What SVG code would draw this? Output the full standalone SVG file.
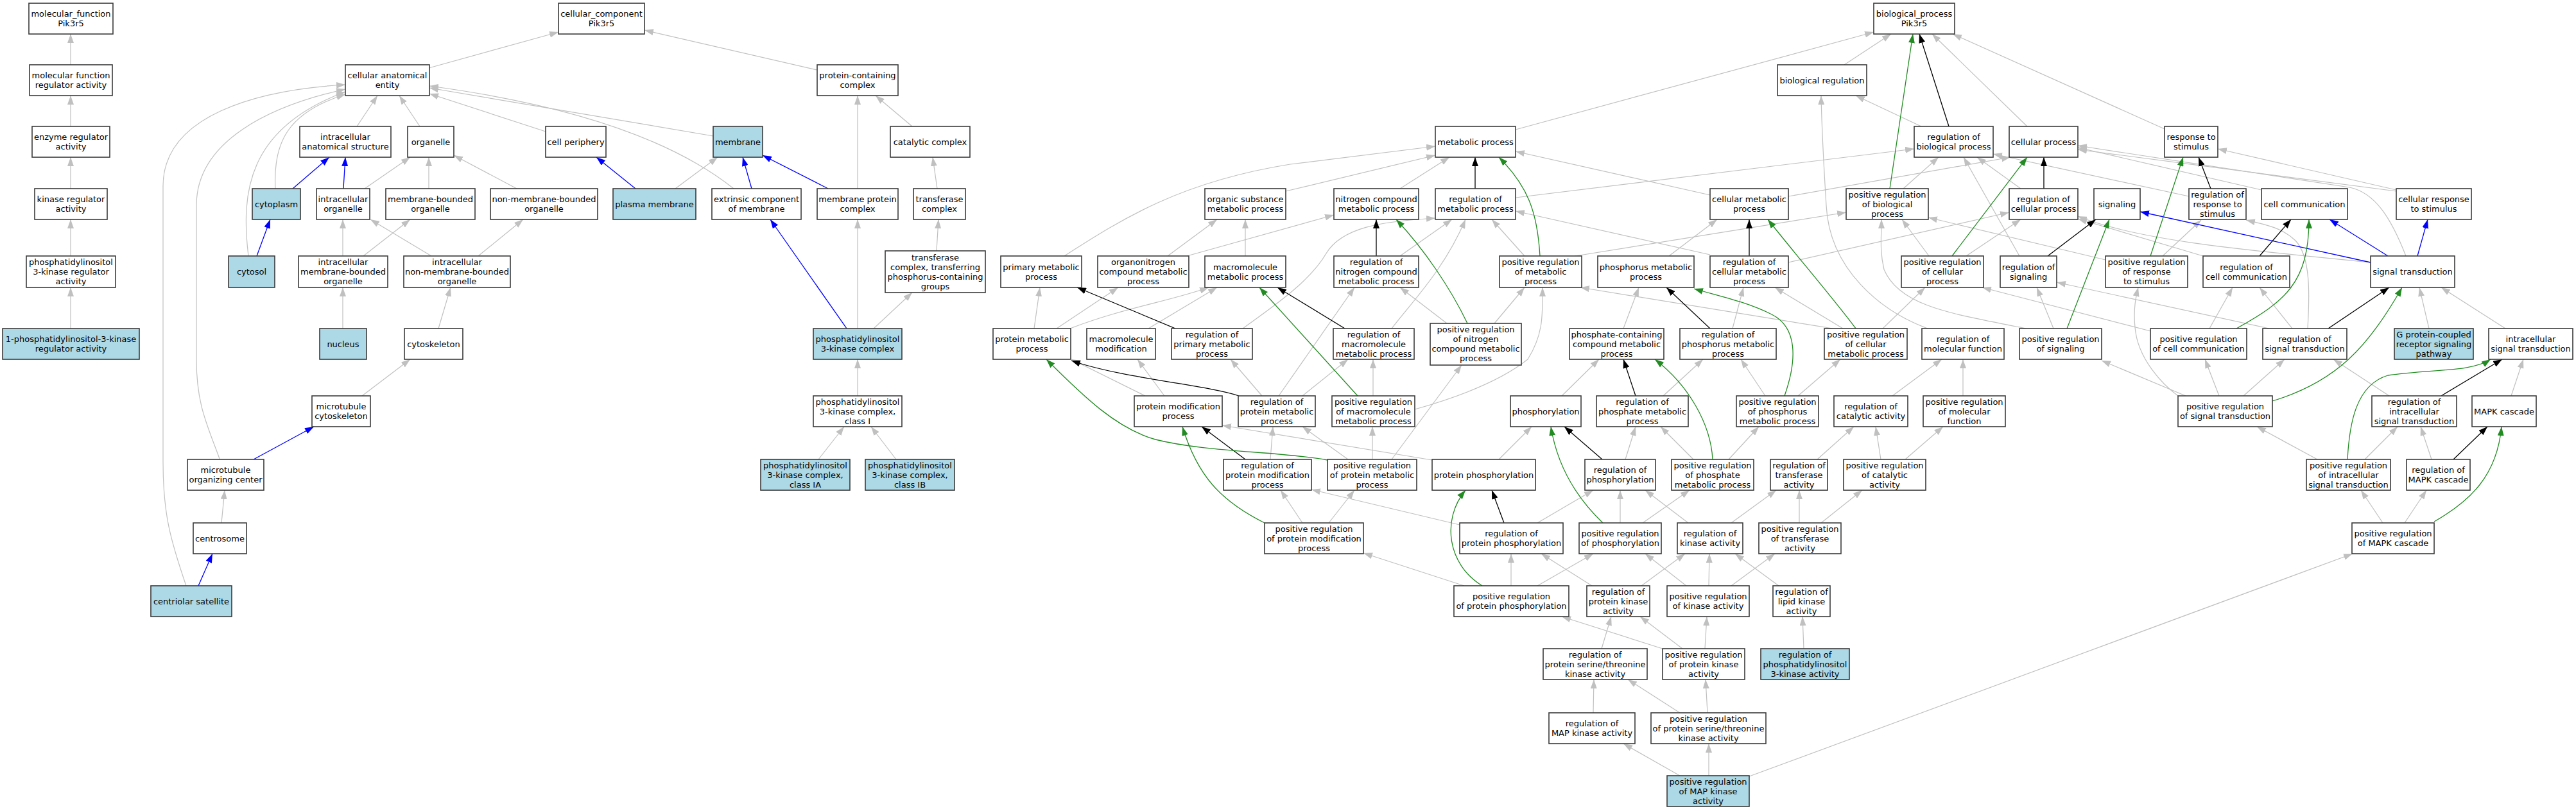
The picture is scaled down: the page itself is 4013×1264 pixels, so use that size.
<svg xmlns="http://www.w3.org/2000/svg" width="4013" height="1264" viewBox="0 0 4013 1264">
<style>
.n rect{fill:#fff;stroke:#3a3a3a;stroke-width:1.6}
.f rect{fill:#add8e6}
text{font-family:"DejaVu Sans","Liberation Sans",sans-serif;font-size:13px;text-anchor:middle;fill:#000}
.eg path{fill:none;stroke:#c0c0c0;stroke-width:1.2;marker-end:url(#ag)}
.ek path{fill:none;stroke:#000;stroke-width:1.3;marker-end:url(#ak)}
.en path{fill:none;stroke:#228b22;stroke-width:1.3;marker-end:url(#an)}
.eb path{fill:none;stroke:#0000ff;stroke-width:1.3;marker-end:url(#ab)}
</style>
<defs>
<marker id="ag" viewBox="0 0 14 10" refX="14" refY="5" markerWidth="14" markerHeight="10" markerUnits="userSpaceOnUse" orient="auto"><path d="M0,0L14,5L0,10z" fill="#c0c0c0"/></marker>
<marker id="ak" viewBox="0 0 14 10" refX="14" refY="5" markerWidth="14" markerHeight="10" markerUnits="userSpaceOnUse" orient="auto"><path d="M0,0L14,5L0,10z" fill="#000"/></marker>
<marker id="an" viewBox="0 0 14 10" refX="14" refY="5" markerWidth="14" markerHeight="10" markerUnits="userSpaceOnUse" orient="auto"><path d="M0,0L14,5L0,10z" fill="#228b22"/></marker>
<marker id="ab" viewBox="0 0 14 10" refX="14" refY="5" markerWidth="14" markerHeight="10" markerUnits="userSpaceOnUse" orient="auto"><path d="M0,0L14,5L0,10z" fill="#0000ff"/></marker>
</defs>
<rect width="4013" height="1264" fill="#fff"/>
<g id="edges">
<g class="eg">
<path d="M110,101L110,53"/>
<path d="M110,197L110,149"/>
<path d="M110,294L110,245"/>
<path d="M110,399L110,342"/>
<path d="M110,512L110,448"/>
<path d="M668,106L870,50"/>
<path d="M1273,109L1004,47"/>
<path d="M556,197L588,149"/>
<path d="M654,197L622,149"/>
<path d="M850,205L669,146"/>
<path d="M1111,212L669,137"/>
<path d="M1143,294C1050,220 900,165 669,134"/>
<path d="M429,294C425,220 450,175 538,147"/>
<path d="M387,399C375,300 385,200 538,143"/>
<path d="M342,715C322,660 306,630 306,560L306,320C306,220 420,165 538,139"/>
<path d="M290,913C265,840 254,800 254,720L254,290C254,180 400,140 538,132"/>
<path d="M568,294L639,245"/>
<path d="M668,294L668,245"/>
<path d="M805,294L707,242"/>
<path d="M534,399L534,342"/>
<path d="M566,399L639,342"/>
<path d="M672,399L577,342"/>
<path d="M745,399L815,342"/>
<path d="M534,512L534,448"/>
<path d="M683,512L702,448"/>
<path d="M564,617L639,560"/>
<path d="M1052,294L1118,245"/>
<path d="M1336,294L1336,149"/>
<path d="M1336,512L1336,342"/>
<path d="M1336,617L1336,560"/>
<path d="M1275,716L1315,665"/>
<path d="M1396,716L1357,665"/>
<path d="M1421,197L1364,149"/>
<path d="M1460,294L1453,245"/>
<path d="M1459,391L1462,342"/>
<path d="M1361,512L1421,456"/>
<path d="M345,815L350,764"/>
<path d="M2873,101L2946,53"/>
<path d="M2361,202L2919,50"/>
<path d="M3158,197L3010,53"/>
<path d="M3372,201L3042,53"/>
<path d="M2993,197L2891,149"/>
<path d="M3003,512C2930,485 2850,420 2845,320C2840,240 2838,200 2837,149"/>
<path d="M2003,298L2236,242"/>
<path d="M1658,399C1750,340 1840,283 2010,256L2236,228"/>
<path d="M2181,294L2258,245"/>
<path d="M2664,304L2361,236"/>
<path d="M1819,399L1896,342"/>
<path d="M1940,399L1940,342"/>
<path d="M1849,399L2078,335"/>
<path d="M1611,512L1620,448"/>
<path d="M1646,512L1742,448"/>
<path d="M1667,512C1750,480 1820,470 1883,448"/>
<path d="M1789,512L1896,448"/>
<path d="M1936,512C1980,480 2040,440 2066,395C2090,355 2150,345 2236,340"/>
<path d="M1966,617L1917,560"/>
<path d="M1784,617L1669,560"/>
<path d="M1814,617L1772,560"/>
<path d="M2231,717L1904,663"/>
<path d="M1979,716L1983,665"/>
<path d="M2029,815L1995,764"/>
<path d="M1992,617L2110,448"/>
<path d="M2029,617L2100,560"/>
<path d="M2361,308L2982,232"/>
<path d="M2181,399L2262,342"/>
<path d="M2375,399L2324,342"/>
<path d="M2664,397L2361,329"/>
<path d="M2168,512C2200,470 2250,420 2283,342"/>
<path d="M2254,504L2181,448"/>
<path d="M2139,617L2139,560"/>
<path d="M2328,504L2375,448"/>
<path d="M2204,638C2250,625 2330,600 2380,560C2405,520 2403,490 2403,448"/>
<path d="M2168,716L2277,569"/>
<path d="M2100,716L2029,665"/>
<path d="M2138,716L2138,665"/>
<path d="M2070,815L2110,764"/>
<path d="M2529,512L2553,448"/>
<path d="M2600,399L2675,342"/>
<path d="M2454,399L2876,331"/>
<path d="M2855,512L2462,448"/>
<path d="M2433,617L2491,560"/>
<path d="M2591,617L2653,560"/>
<path d="M2335,716L2386,665"/>
<path d="M2532,716L2548,665"/>
<path d="M2638,716L2587,665"/>
<path d="M2693,716L2740,665"/>
<path d="M2274,818L2043,763"/>
<path d="M2395,815L2482,764"/>
<path d="M2524,815L2524,764"/>
<path d="M2630,815L2563,764"/>
<path d="M2559,815L2632,764"/>
<path d="M2697,815L2767,764"/>
<path d="M2803,815L2803,764"/>
<path d="M2837,815L2901,764"/>
<path d="M2831,716L2888,665"/>
<path d="M2930,716L2922,665"/>
<path d="M2968,716L3027,665"/>
<path d="M2281,913L2124,862"/>
<path d="M2354,913L2354,863"/>
<path d="M2480,913L2401,863"/>
<path d="M2395,913L2482,863"/>
<path d="M2627,913L2563,863"/>
<path d="M2557,913L2625,863"/>
<path d="M2662,913L2663,863"/>
<path d="M2697,913L2765,863"/>
<path d="M2771,913L2703,863"/>
<path d="M2590,1011L2433,961"/>
<path d="M2495,1011L2510,961"/>
<path d="M2621,1011L2555,961"/>
<path d="M2656,1011L2659,961"/>
<path d="M2810,1011L2808,961"/>
<path d="M2482,1111L2483,1059"/>
<path d="M2617,1111L2536,1059"/>
<path d="M2660,1111L2657,1059"/>
<path d="M2617,1209L2529,1159"/>
<path d="M2662,1209L2662,1159"/>
<path d="M2725,1210L3665,863"/>
<path d="M2965,294L3020,245"/>
<path d="M3148,294L3080,245"/>
<path d="M3146,399L3059,245"/>
<path d="M3410,306L3105,240"/>
<path d="M2786,306L3132,245"/>
<path d="M2786,409L3130,331"/>
<path d="M3005,399L2963,342"/>
<path d="M3063,399L3148,342"/>
<path d="M2871,512L2765,448"/>
<path d="M2699,512L2716,448"/>
<path d="M2801,617L2867,560"/>
<path d="M2750,617L2712,560"/>
<path d="M2933,512L2999,448"/>
<path d="M3156,512C3050,490 2960,480 2935,420C2928,390 2931,370 2931,342"/>
<path d="M3199,512L3173,448"/>
<path d="M3350,516L3088,448"/>
<path d="M3535,512L3204,440"/>
<path d="M3405,617L3274,562"/>
<path d="M3393,617C3370,600 3330,560 3326,510C3323,480 3328,460 3331,448"/>
<path d="M3369,399L3429,343"/>
<path d="M3280,405L3004,339"/>
<path d="M3432,399L3237,341"/>
<path d="M3693,409C3500,390 3330,375 3237,337"/>
<path d="M3748,399C3725,340 3700,300 3660,292L3237,227"/>
<path d="M3733,298L3237,233"/>
<path d="M3523,296L3237,230"/>
<path d="M3733,296L3455,232"/>
<path d="M3442,512L3478,448"/>
<path d="M3571,512L3520,448"/>
<path d="M3595,512C3598,460 3600,400 3576,375C3555,355 3530,350 3499,343"/>
<path d="M3784,512L3769,448"/>
<path d="M3903,512L3803,448"/>
<path d="M3457,617L3435,560"/>
<path d="M3495,617L3559,560"/>
<path d="M3722,617L3635,560"/>
<path d="M3912,617L3931,560"/>
<path d="M3610,716L3516,665"/>
<path d="M3684,716L3735,665"/>
<path d="M3788,716L3771,665"/>
<path d="M3712,815L3678,764"/>
<path d="M3746,815L3780,764"/>
<path d="M2948,617L3025,560"/>
<path d="M3058,617L3058,560"/>
</g>
<g class="eb">
<path d="M456,294L513,245"/>
<path d="M535,294L538,245"/>
<path d="M400,399L421,342"/>
<path d="M990,294L929,245"/>
<path d="M1171,294L1157,245"/>
<path d="M1290,294L1188,242"/>
<path d="M1319,512L1200,342"/>
<path d="M395,716L489,665"/>
<path d="M309,913L331,863"/>
<path d="M3693,409L3334,330"/>
<path d="M3720,399L3629,342"/>
<path d="M3766,399L3782,342"/>
</g>
<g class="ek">
<path d="M3036,197L2990,53"/>
<path d="M2298,294L2298,245"/>
<path d="M2144,399L2144,342"/>
<path d="M2095,512L1990,448"/>
<path d="M1831,512L1678,448"/>
<path d="M1930,617C1880,600 1750,590 1669,562"/>
<path d="M1940,716L1872,665"/>
<path d="M3184,294L3184,245"/>
<path d="M2725,399L2725,342"/>
<path d="M2664,512L2596,448"/>
<path d="M2548,617L2529,560"/>
<path d="M2496,716L2437,665"/>
<path d="M2343,815L2324,764"/>
<path d="M3190,399L3265,342"/>
<path d="M3444,294L3425,245"/>
<path d="M3520,399L3569,342"/>
<path d="M3627,512L3722,448"/>
<path d="M3803,617L3898,560"/>
<path d="M3822,716L3875,665"/>
</g>
<g class="en">
<path d="M2944,294L2980,53"/>
<path d="M2399,399C2395,330 2380,290 2335,245"/>
<path d="M2286,504C2260,450 2220,390 2175,342"/>
<path d="M2115,617L1962,448"/>
<path d="M2068,717C1990,703 1880,705 1800,685C1740,668 1690,620 1630,560"/>
<path d="M1970,815C1900,780 1865,740 1842,665"/>
<path d="M3041,399L3158,245"/>
<path d="M2891,512C2860,470 2800,400 2754,342"/>
<path d="M2780,617C2800,560 2800,510 2760,490C2720,470 2680,462 2639,450"/>
<path d="M2668,716C2665,660 2630,600 2578,560"/>
<path d="M2497,815C2450,770 2425,720 2416,665"/>
<path d="M2309,913C2255,880 2245,810 2283,764"/>
<path d="M3350,399L3401,245"/>
<path d="M3484,512C3560,470 3597,440 3597,342"/>
<path d="M3220,512L3286,342"/>
<path d="M3540,625C3640,595 3690,540 3742,448"/>
<path d="M3657,716C3660,660 3670,600 3720,585C3790,575 3850,580 3880,560"/>
<path d="M3792,813C3850,780 3890,740 3897,665"/>
</g>
</g>
<g id="nodes">
<g id="mf_root" class="n"><rect x="45" y="5" width="131" height="48"/><text x="110.5" y="26">molecular_function<tspan x="110.5" dy="15">Pik3r5</tspan></text></g>
<g id="mf_reg" class="n"><rect x="46" y="101" width="129" height="48"/><text x="110.5" y="122">molecular function<tspan x="110.5" dy="15">regulator activity</tspan></text></g>
<g id="enzyme_reg" class="n"><rect x="50" y="197" width="121" height="48"/><text x="110.5" y="218">enzyme regulator<tspan x="110.5" dy="15">activity</tspan></text></g>
<g id="kinase_reg" class="n"><rect x="54" y="294" width="113" height="48"/><text x="110.5" y="315">kinase regulator<tspan x="110.5" dy="15">activity</tspan></text></g>
<g id="pi3k_reg" class="n"><rect x="41" y="399" width="139" height="49"/><text x="110.5" y="413">phosphatidylinositol<tspan x="110.5" dy="15">3-kinase regulator</tspan><tspan x="110.5" dy="15">activity</tspan></text></g>
<g id="pi3k_reg1" class="n f"><rect x="4" y="512" width="213" height="48"/><text x="110.5" y="533">1-phosphatidylinositol-3-kinase<tspan x="110.5" dy="15">regulator activity</tspan></text></g>

<g id="cc_root" class="n"><rect x="870" y="5" width="134" height="48"/><text x="937" y="26">cellular_component<tspan x="937" dy="15">Pik3r5</tspan></text></g>
<g id="cae" class="n"><rect x="538" y="101" width="131" height="48"/><text x="603.5" y="122">cellular anatomical<tspan x="603.5" dy="15">entity</tspan></text></g>
<g id="pcc" class="n"><rect x="1273" y="101" width="126" height="48"/><text x="1336" y="122">protein-containing<tspan x="1336" dy="15">complex</tspan></text></g>
<g id="ias" class="n"><rect x="467" y="197" width="142" height="48"/><text x="538" y="218">intracellular<tspan x="538" dy="15">anatomical structure</tspan></text></g>
<g id="organelle" class="n"><rect x="635" y="197" width="72" height="48"/><text x="671" y="225.5">organelle</text></g>
<g id="cell_periphery" class="n"><rect x="850" y="197" width="94" height="48"/><text x="897" y="225.5">cell periphery</text></g>
<g id="membrane" class="n f"><rect x="1111" y="197" width="77" height="48"/><text x="1149.5" y="225.5">membrane</text></g>
<g id="catalytic_complex" class="n"><rect x="1387" y="197" width="124" height="48"/><text x="1449" y="225.5">catalytic complex</text></g>
<g id="cytoplasm" class="n f"><rect x="393" y="294" width="75" height="48"/><text x="430.5" y="322.5">cytoplasm</text></g>
<g id="io" class="n"><rect x="493" y="294" width="83" height="48"/><text x="534.5" y="315">intracellular<tspan x="534.5" dy="15">organelle</tspan></text></g>
<g id="mbo" class="n"><rect x="601" y="294" width="139" height="48"/><text x="670.5" y="315">membrane-bounded<tspan x="670.5" dy="15">organelle</tspan></text></g>
<g id="nmbo" class="n"><rect x="764" y="294" width="167" height="48"/><text x="847.5" y="315">non-membrane-bounded<tspan x="847.5" dy="15">organelle</tspan></text></g>
<g id="plasma_membrane" class="n f"><rect x="955" y="294" width="129" height="48"/><text x="1019.5" y="322.5">plasma membrane</text></g>
<g id="extrinsic" class="n"><rect x="1109" y="294" width="139" height="48"/><text x="1178.5" y="315">extrinsic component<tspan x="1178.5" dy="15">of membrane</tspan></text></g>
<g id="mpc" class="n"><rect x="1273" y="294" width="126" height="48"/><text x="1336" y="315">membrane protein<tspan x="1336" dy="15">complex</tspan></text></g>
<g id="transferase_complex" class="n"><rect x="1423" y="294" width="81" height="48"/><text x="1463.5" y="315">transferase<tspan x="1463.5" dy="15">complex</tspan></text></g>
<g id="cytosol" class="n f"><rect x="356" y="399" width="72" height="49"/><text x="392" y="428">cytosol</text></g>
<g id="imbo" class="n"><rect x="465" y="399" width="139" height="49"/><text x="534.5" y="413">intracellular<tspan x="534.5" dy="15">membrane-bounded</tspan><tspan x="534.5" dy="15">organelle</tspan></text></g>
<g id="inmbo" class="n"><rect x="629" y="399" width="166" height="49"/><text x="712" y="413">intracellular<tspan x="712" dy="15">non-membrane-bounded</tspan><tspan x="712" dy="15">organelle</tspan></text></g>
<g id="tctp" class="n"><rect x="1379" y="391" width="156" height="65"/><text x="1457" y="405.5">transferase<tspan x="1457" dy="15">complex, transferring</tspan><tspan x="1457" dy="15">phosphorus-containing</tspan><tspan x="1457" dy="15">groups</tspan></text></g>
<g id="nucleus" class="n f"><rect x="498" y="512" width="73" height="48"/><text x="534.5" y="540.5">nucleus</text></g>
<g id="cytoskeleton" class="n"><rect x="630" y="512" width="91" height="48"/><text x="675.5" y="540.5">cytoskeleton</text></g>
<g id="pi3k_complex" class="n f"><rect x="1267" y="512" width="138" height="48"/><text x="1336" y="533">phosphatidylinositol<tspan x="1336" dy="15">3-kinase complex</tspan></text></g>
<g id="mt_cytoskeleton" class="n"><rect x="486" y="617" width="91" height="48"/><text x="531.5" y="638">microtubule<tspan x="531.5" dy="15">cytoskeleton</tspan></text></g>
<g id="pi3k_class1" class="n"><rect x="1267" y="617" width="138" height="48"/><text x="1336" y="630.5">phosphatidylinositol<tspan x="1336" dy="15">3-kinase complex,</tspan><tspan x="1336" dy="15">class I</tspan></text></g>
<g id="mtoc" class="n"><rect x="292" y="716" width="119" height="48"/><text x="351.5" y="737">microtubule<tspan x="351.5" dy="15">organizing center</tspan></text></g>
<g id="pi3k_class1a" class="n f"><rect x="1185" y="716" width="139" height="48"/><text x="1254.5" y="729.5">phosphatidylinositol<tspan x="1254.5" dy="15">3-kinase complex,</tspan><tspan x="1254.5" dy="15">class IA</tspan></text></g>
<g id="pi3k_class1b" class="n f"><rect x="1348" y="716" width="139" height="48"/><text x="1417.5" y="729.5">phosphatidylinositol<tspan x="1417.5" dy="15">3-kinase complex,</tspan><tspan x="1417.5" dy="15">class IB</tspan></text></g>
<g id="centrosome" class="n"><rect x="301" y="815" width="83" height="48"/><text x="342.5" y="843.5">centrosome</text></g>
<g id="centriolar_satellite" class="n f"><rect x="235" y="913" width="126" height="48"/><text x="298" y="941.5">centriolar satellite</text></g>

<g id="bp_root" class="n"><rect x="2919" y="5" width="126" height="48"/><text x="2982" y="26">biological_process<tspan x="2982" dy="15">Pik3r5</tspan></text></g>
<g id="bio_reg" class="n"><rect x="2769" y="101" width="139" height="48"/><text x="2838.5" y="129.5">biological regulation</text></g>
<g id="metabolic" class="n"><rect x="2236" y="197" width="125" height="48"/><text x="2298.5" y="225.5">metabolic process</text></g>
<g id="reg_bio" class="n"><rect x="2982" y="197" width="123" height="48"/><text x="3043.5" y="218">regulation of<tspan x="3043.5" dy="15">biological process</tspan></text></g>
<g id="cellular_process" class="n"><rect x="3130" y="197" width="107" height="48"/><text x="3183.5" y="225.5">cellular process</text></g>
<g id="response_stim" class="n"><rect x="3372" y="197" width="83" height="48"/><text x="3413.5" y="218">response to<tspan x="3413.5" dy="15">stimulus</tspan></text></g>
<g id="organic_met" class="n"><rect x="1877" y="294" width="126" height="48"/><text x="1940" y="315">organic substance<tspan x="1940" dy="15">metabolic process</tspan></text></g>
<g id="nitrogen_met" class="n"><rect x="2078" y="294" width="132" height="48"/><text x="2144" y="315">nitrogen compound<tspan x="2144" dy="15">metabolic process</tspan></text></g>
<g id="reg_met" class="n"><rect x="2236" y="294" width="125" height="48"/><text x="2298.5" y="315">regulation of<tspan x="2298.5" dy="15">metabolic process</tspan></text></g>
<g id="cell_met" class="n"><rect x="2664" y="294" width="122" height="48"/><text x="2725" y="315">cellular metabolic<tspan x="2725" dy="15">process</tspan></text></g>
<g id="pos_reg_bio" class="n"><rect x="2876" y="294" width="128" height="48"/><text x="2940" y="307.5">positive regulation<tspan x="2940" dy="15">of biological</tspan><tspan x="2940" dy="15">process</tspan></text></g>
<g id="reg_cell_proc" class="n"><rect x="3130" y="294" width="107" height="48"/><text x="3183.5" y="315">regulation of<tspan x="3183.5" dy="15">cellular process</tspan></text></g>
<g id="signaling" class="n"><rect x="3262" y="294" width="72" height="48"/><text x="3298" y="322.5">signaling</text></g>
<g id="reg_resp_stim" class="n"><rect x="3410" y="294" width="89" height="48"/><text x="3454.5" y="307.5">regulation of<tspan x="3454.5" dy="15">response to</tspan><tspan x="3454.5" dy="15">stimulus</tspan></text></g>
<g id="cell_comm" class="n"><rect x="3523" y="294" width="134" height="48"/><text x="3590" y="322.5">cell communication</text></g>
<g id="cell_resp_stim" class="n"><rect x="3733" y="294" width="117" height="48"/><text x="3791.5" y="315">cellular response<tspan x="3791.5" dy="15">to stimulus</tspan></text></g>
<g id="primary_met" class="n"><rect x="1559" y="399" width="126" height="49"/><text x="1622" y="420.5">primary metabolic<tspan x="1622" dy="15">process</tspan></text></g>
<g id="organonitrogen" class="n"><rect x="1710" y="399" width="142" height="49"/><text x="1781" y="413">organonitrogen<tspan x="1781" dy="15">compound metabolic</tspan><tspan x="1781" dy="15">process</tspan></text></g>
<g id="macromol_met" class="n"><rect x="1877" y="399" width="126" height="49"/><text x="1940" y="420.5">macromolecule<tspan x="1940" dy="15">metabolic process</tspan></text></g>
<g id="reg_nitrogen" class="n"><rect x="2078" y="399" width="132" height="49"/><text x="2144" y="413">regulation of<tspan x="2144" dy="15">nitrogen compound</tspan><tspan x="2144" dy="15">metabolic process</tspan></text></g>
<g id="pos_reg_met" class="n"><rect x="2336" y="399" width="128" height="49"/><text x="2400" y="413">positive regulation<tspan x="2400" dy="15">of metabolic</tspan><tspan x="2400" dy="15">process</tspan></text></g>
<g id="phosphorus_met" class="n"><rect x="2489" y="399" width="150" height="49"/><text x="2564" y="420.5">phosphorus metabolic<tspan x="2564" dy="15">process</tspan></text></g>
<g id="reg_cell_met" class="n"><rect x="2664" y="399" width="122" height="49"/><text x="2725" y="413">regulation of<tspan x="2725" dy="15">cellular metabolic</tspan><tspan x="2725" dy="15">process</tspan></text></g>
<g id="pos_reg_cell_proc" class="n"><rect x="2962" y="399" width="128" height="49"/><text x="3026" y="413">positive regulation<tspan x="3026" dy="15">of cellular</tspan><tspan x="3026" dy="15">process</tspan></text></g>
<g id="reg_signaling" class="n"><rect x="3116" y="399" width="88" height="49"/><text x="3160" y="420.5">regulation of<tspan x="3160" dy="15">signaling</tspan></text></g>
<g id="pos_reg_resp_stim" class="n"><rect x="3280" y="399" width="128" height="49"/><text x="3344" y="413">positive regulation<tspan x="3344" dy="15">of response</tspan><tspan x="3344" dy="15">to stimulus</tspan></text></g>
<g id="reg_cell_comm" class="n"><rect x="3432" y="399" width="135" height="49"/><text x="3499.5" y="420.5">regulation of<tspan x="3499.5" dy="15">cell communication</tspan></text></g>
<g id="signal_transduction" class="n"><rect x="3693" y="399" width="131" height="49"/><text x="3758.5" y="428">signal transduction</text></g>
<g id="protein_met" class="n"><rect x="1547" y="512" width="121" height="48"/><text x="1607.5" y="533">protein metabolic<tspan x="1607.5" dy="15">process</tspan></text></g>
<g id="macromol_mod" class="n"><rect x="1693" y="512" width="107" height="48"/><text x="1746.5" y="533">macromolecule<tspan x="1746.5" dy="15">modification</tspan></text></g>
<g id="reg_primary_met" class="n"><rect x="1825" y="512" width="126" height="48"/><text x="1888" y="525.5">regulation of<tspan x="1888" dy="15">primary metabolic</tspan><tspan x="1888" dy="15">process</tspan></text></g>
<g id="reg_macromol_met" class="n"><rect x="2077" y="512" width="126" height="48"/><text x="2140" y="525.5">regulation of<tspan x="2140" dy="15">macromolecule</tspan><tspan x="2140" dy="15">metabolic process</tspan></text></g>
<g id="pos_reg_nitrogen" class="n"><rect x="2228" y="504" width="142" height="65"/><text x="2299" y="518">positive regulation<tspan x="2299" dy="15">of nitrogen</tspan><tspan x="2299" dy="15">compound metabolic</tspan><tspan x="2299" dy="15">process</tspan></text></g>
<g id="phosphate_met" class="n"><rect x="2445" y="512" width="147" height="48"/><text x="2518.5" y="525.5">phosphate-containing<tspan x="2518.5" dy="15">compound metabolic</tspan><tspan x="2518.5" dy="15">process</tspan></text></g>
<g id="reg_phosphorus_met" class="n"><rect x="2617" y="512" width="150" height="48"/><text x="2692" y="525.5">regulation of<tspan x="2692" dy="15">phosphorus metabolic</tspan><tspan x="2692" dy="15">process</tspan></text></g>
<g id="pos_reg_cell_met" class="n"><rect x="2842" y="512" width="129" height="48"/><text x="2906.5" y="525.5">positive regulation<tspan x="2906.5" dy="15">of cellular</tspan><tspan x="2906.5" dy="15">metabolic process</tspan></text></g>
<g id="reg_mol_func" class="n"><rect x="2994" y="512" width="128" height="48"/><text x="3058" y="533">regulation of<tspan x="3058" dy="15">molecular function</tspan></text></g>
<g id="pos_reg_signaling" class="n"><rect x="3146" y="512" width="128" height="48"/><text x="3210" y="533">positive regulation<tspan x="3210" dy="15">of signaling</tspan></text></g>
<g id="pos_reg_cell_comm" class="n"><rect x="3350" y="512" width="150" height="48"/><text x="3425" y="533">positive regulation<tspan x="3425" dy="15">of cell communication</tspan></text></g>
<g id="reg_signal_trans" class="n"><rect x="3525" y="512" width="131" height="48"/><text x="3590.5" y="533">regulation of<tspan x="3590.5" dy="15">signal transduction</tspan></text></g>
<g id="gpcr" class="n f"><rect x="3730" y="512" width="123" height="48"/><text x="3791.5" y="525.5">G protein-coupled<tspan x="3791.5" dy="15">receptor signaling</tspan><tspan x="3791.5" dy="15">pathway</tspan></text></g>
<g id="intra_signal" class="n"><rect x="3877" y="512" width="131" height="48"/><text x="3942.5" y="533">intracellular<tspan x="3942.5" dy="15">signal transduction</tspan></text></g>
<g id="protein_mod" class="n"><rect x="1767" y="617" width="137" height="48"/><text x="1835.5" y="638">protein modification<tspan x="1835.5" dy="15">process</tspan></text></g>
<g id="reg_protein_met" class="n"><rect x="1929" y="617" width="120" height="48"/><text x="1989" y="630.5">regulation of<tspan x="1989" dy="15">protein metabolic</tspan><tspan x="1989" dy="15">process</tspan></text></g>
<g id="pos_reg_macromol" class="n"><rect x="2075" y="617" width="129" height="48"/><text x="2139.5" y="630.5">positive regulation<tspan x="2139.5" dy="15">of macromolecule</tspan><tspan x="2139.5" dy="15">metabolic process</tspan></text></g>
<g id="phosphorylation" class="n"><rect x="2353" y="617" width="110" height="48"/><text x="2408" y="645.5">phosphorylation</text></g>
<g id="reg_phosphate_met" class="n"><rect x="2487" y="617" width="143" height="48"/><text x="2558.5" y="630.5">regulation of<tspan x="2558.5" dy="15">phosphate metabolic</tspan><tspan x="2558.5" dy="15">process</tspan></text></g>
<g id="pos_reg_phosphorus" class="n"><rect x="2705" y="617" width="128" height="48"/><text x="2769" y="630.5">positive regulation<tspan x="2769" dy="15">of phosphorus</tspan><tspan x="2769" dy="15">metabolic process</tspan></text></g>
<g id="reg_catalytic" class="n"><rect x="2857" y="617" width="115" height="48"/><text x="2914.5" y="638">regulation of<tspan x="2914.5" dy="15">catalytic activity</tspan></text></g>
<g id="pos_reg_mol_func" class="n"><rect x="2996" y="617" width="128" height="48"/><text x="3060" y="630.5">positive regulation<tspan x="3060" dy="15">of molecular</tspan><tspan x="3060" dy="15">function</tspan></text></g>
<g id="pos_reg_signal_trans" class="n"><rect x="3393" y="617" width="147" height="48"/><text x="3466.5" y="638">positive regulation<tspan x="3466.5" dy="15">of signal transduction</tspan></text></g>
<g id="reg_intra_signal" class="n"><rect x="3695" y="617" width="132" height="48"/><text x="3761" y="630.5">regulation of<tspan x="3761" dy="15">intracellular</tspan><tspan x="3761" dy="15">signal transduction</tspan></text></g>
<g id="mapk" class="n"><rect x="3851" y="617" width="100" height="48"/><text x="3901" y="645.5">MAPK cascade</text></g>
<g id="reg_protein_mod" class="n"><rect x="1906" y="716" width="137" height="48"/><text x="1974.5" y="729.5">regulation of<tspan x="1974.5" dy="15">protein modification</tspan><tspan x="1974.5" dy="15">process</tspan></text></g>
<g id="pos_reg_protein_met" class="n"><rect x="2068" y="716" width="139" height="48"/><text x="2137.5" y="729.5">positive regulation<tspan x="2137.5" dy="15">of protein metabolic</tspan><tspan x="2137.5" dy="15">process</tspan></text></g>
<g id="protein_phos" class="n"><rect x="2231" y="716" width="161" height="48"/><text x="2311.5" y="744.5">protein phosphorylation</text></g>
<g id="reg_phos" class="n"><rect x="2469" y="716" width="110" height="48"/><text x="2524" y="737">regulation of<tspan x="2524" dy="15">phosphorylation</tspan></text></g>
<g id="pos_reg_phosphate" class="n"><rect x="2604" y="716" width="128" height="48"/><text x="2668" y="729.5">positive regulation<tspan x="2668" dy="15">of phosphate</tspan><tspan x="2668" dy="15">metabolic process</tspan></text></g>
<g id="reg_transferase" class="n"><rect x="2758" y="716" width="89" height="48"/><text x="2802.5" y="729.5">regulation of<tspan x="2802.5" dy="15">transferase</tspan><tspan x="2802.5" dy="15">activity</tspan></text></g>
<g id="pos_reg_catalytic" class="n"><rect x="2872" y="716" width="128" height="48"/><text x="2936" y="729.5">positive regulation<tspan x="2936" dy="15">of catalytic</tspan><tspan x="2936" dy="15">activity</tspan></text></g>
<g id="pos_reg_intra_signal" class="n"><rect x="3593" y="716" width="131" height="48"/><text x="3658.5" y="729.5">positive regulation<tspan x="3658.5" dy="15">of intracellular</tspan><tspan x="3658.5" dy="15">signal transduction</tspan></text></g>
<g id="reg_mapk" class="n"><rect x="3749" y="716" width="99" height="48"/><text x="3798.5" y="737">regulation of<tspan x="3798.5" dy="15">MAPK cascade</tspan></text></g>
<g id="pos_reg_protein_mod" class="n"><rect x="1970" y="815" width="154" height="48"/><text x="2047" y="828.5">positive regulation<tspan x="2047" dy="15">of protein modification</tspan><tspan x="2047" dy="15">process</tspan></text></g>
<g id="reg_protein_phos" class="n"><rect x="2274" y="815" width="161" height="48"/><text x="2354.5" y="836">regulation of<tspan x="2354.5" dy="15">protein phosphorylation</tspan></text></g>
<g id="pos_reg_phos" class="n"><rect x="2460" y="815" width="128" height="48"/><text x="2524" y="836">positive regulation<tspan x="2524" dy="15">of phosphorylation</tspan></text></g>
<g id="reg_kinase" class="n"><rect x="2613" y="815" width="102" height="48"/><text x="2664" y="836">regulation of<tspan x="2664" dy="15">kinase activity</tspan></text></g>
<g id="pos_reg_transferase" class="n"><rect x="2740" y="815" width="128" height="48"/><text x="2804" y="828.5">positive regulation<tspan x="2804" dy="15">of transferase</tspan><tspan x="2804" dy="15">activity</tspan></text></g>
<g id="pos_reg_mapk" class="n"><rect x="3664" y="815" width="128" height="48"/><text x="3728" y="836">positive regulation<tspan x="3728" dy="15">of MAPK cascade</tspan></text></g>
<g id="pos_reg_protein_phos" class="n"><rect x="2265" y="913" width="179" height="48"/><text x="2354.5" y="934">positive regulation<tspan x="2354.5" dy="15">of protein phosphorylation</tspan></text></g>
<g id="reg_protein_kinase" class="n"><rect x="2472" y="913" width="98" height="48"/><text x="2521" y="926.5">regulation of<tspan x="2521" dy="15">protein kinase</tspan><tspan x="2521" dy="15">activity</tspan></text></g>
<g id="pos_reg_kinase" class="n"><rect x="2597" y="913" width="128" height="48"/><text x="2661" y="934">positive regulation<tspan x="2661" dy="15">of kinase activity</tspan></text></g>
<g id="reg_lipid_kinase" class="n"><rect x="2762" y="913" width="89" height="48"/><text x="2806.5" y="926.5">regulation of<tspan x="2806.5" dy="15">lipid kinase</tspan><tspan x="2806.5" dy="15">activity</tspan></text></g>
<g id="reg_pst_kinase" class="n"><rect x="2404" y="1011" width="162" height="48"/><text x="2485" y="1024.5">regulation of<tspan x="2485" dy="15">protein serine/threonine</tspan><tspan x="2485" dy="15">kinase activity</tspan></text></g>
<g id="pos_reg_protein_kinase" class="n"><rect x="2590" y="1011" width="128" height="48"/><text x="2654" y="1024.5">positive regulation<tspan x="2654" dy="15">of protein kinase</tspan><tspan x="2654" dy="15">activity</tspan></text></g>
<g id="reg_pi3k_activity" class="n f"><rect x="2743" y="1011" width="138" height="48"/><text x="2812" y="1024.5">regulation of<tspan x="2812" dy="15">phosphatidylinositol</tspan><tspan x="2812" dy="15">3-kinase activity</tspan></text></g>
<g id="reg_map_kinase" class="n"><rect x="2413" y="1111" width="134" height="48"/><text x="2480" y="1132">regulation of<tspan x="2480" dy="15">MAP kinase activity</tspan></text></g>
<g id="pos_reg_pst_kinase" class="n"><rect x="2572" y="1111" width="179" height="48"/><text x="2661.5" y="1124.5">positive regulation<tspan x="2661.5" dy="15">of protein serine/threonine</tspan><tspan x="2661.5" dy="15">kinase activity</tspan></text></g>
<g id="pos_reg_map_kinase" class="n f"><rect x="2597" y="1209" width="128" height="48"/><text x="2661" y="1222.5">positive regulation<tspan x="2661" dy="15">of MAP kinase</tspan><tspan x="2661" dy="15">activity</tspan></text></g>
</g>
</svg>
